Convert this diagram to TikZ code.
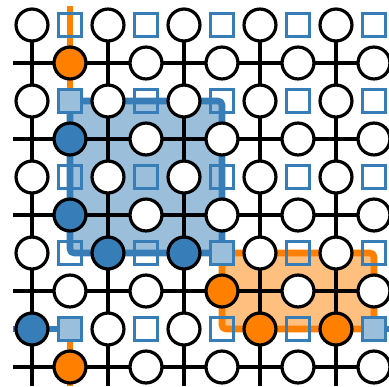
\documentclass[tikz,border=0pt]{standalone}
\usepackage{tikz}
\usepackage{xcolor}
\usetikzlibrary{backgrounds}
\definecolor{zblue}{HTML}{377EB8}
\definecolor{xorange}{HTML}{FF7F00}
\tikzset{
  % A data qubit
  qubit/.style={
    circle, draw=black, fill=white, line width=2.4pt,
    minimum size=0.84cm, inner sep=0pt},
  % An ancilla (measure) qubit
  anc/.style={
    rectangle, draw=zblue, line width=2pt,
    minimum size=0.59cm, inner sep=0pt},
  % Flipped syndrome
  synd/.style={fill=zblue!50!white},
  % Errors on data qubits
  xerr/.style={fill=xorange},
  zerr/.style={fill=zblue},
  % Lattice and error chains
  wire/.style={draw=black, line width=3pt},
  xpath/.style={draw=xorange, line width=5pt},
  zpath/.style={draw=zblue, line width=5pt},
  xloop/.style={xpath, fill=xorange, fill opacity=0.5,
    rounded corners=3pt, line join=round},
  zloop/.style={zpath, fill=zblue, fill opacity=0.5,
    rounded corners=3pt, line join=round},
  % Which qubits are marked
  hl-1-1/.style={xerr}, hl-9-1/.style={xerr}, hl-7-5/.style={xerr},
  hl-8-6/.style={xerr}, hl-8-8/.style={xerr},
  hl-3-1/.style={zerr}, hl-5-1/.style={zerr}, hl-6-2/.style={zerr},
  hl-6-4/.style={zerr}, hl-8-0/.style={zerr},
  hl-2-1/.style={synd}, hl-6-5/.style={synd}, hl-8-1/.style={synd},
  hl-8-9/.style={synd},
}
\begin{document}
\begin{tikzpicture}

  \useasboundingbox (-0.842,0.658) rectangle (9.395,-9.526);

  % --- Data qubits -------------------------------------------------------
  \foreach \r in {0,2,...,8}
    \foreach \c in {0,2,...,8}
      \node[qubit, hl-\r-\c/.try] (q-\r-\c) at (\c,-\r) {};
  \foreach \r in {1,3,...,9}
    \foreach \c in {1,3,...,9}
      \node[qubit, hl-\r-\c/.try] (q-\r-\c) at (\c,-\r) {};

  % --- Ancillas ----------------------------------------------------------
  \foreach \r in {0,2,...,8}
    \foreach \c in {1,3,...,9}
      \node[anc, hl-\r-\c/.try] (a-\r-\c) at (\c,-\r) {};

  % --- Open ends of the lattice -----------------------------------------
  \foreach \r in {1,3,...,9,8} {
    \coordinate (w-\r) at (-0.5,-\r);
    \coordinate (e-\r) at (9.5,-\r);
  }
  \foreach \c in {0,...,9}
    \coordinate (s-\c) at (\c,-9.5);
  \coordinate (n-1) at (1,0.5);

  \begin{scope}[on background layer]
    % error chains
    \path[zloop] (a-2-1.center) -- (a-2-5.center) -- (a-6-5.center)
                 -- (a-6-1.center) -- cycle;
    \path[xloop] (a-6-5.center) -- (a-6-9.center) -- (a-8-9.center)
                 -- (a-8-5.center) -- cycle;
    \draw[xpath] (n-1) -- (a-2-1.center);
    \draw[xpath] (a-8-1.center) -- (s-1);
    \draw[zpath] (w-8) -- (a-8-1.center);
    \draw[zpath] (a-8-9.center) -- (e-8);

    % lattice
    \foreach \r in {1,3,...,9}
      \draw[wire] (w-\r) -- (e-\r);
    \foreach \c in {0,2,...,8}
      \draw[wire] (q-0-\c.center) -- (s-\c);
  \end{scope}

\end{tikzpicture}
\end{document}
